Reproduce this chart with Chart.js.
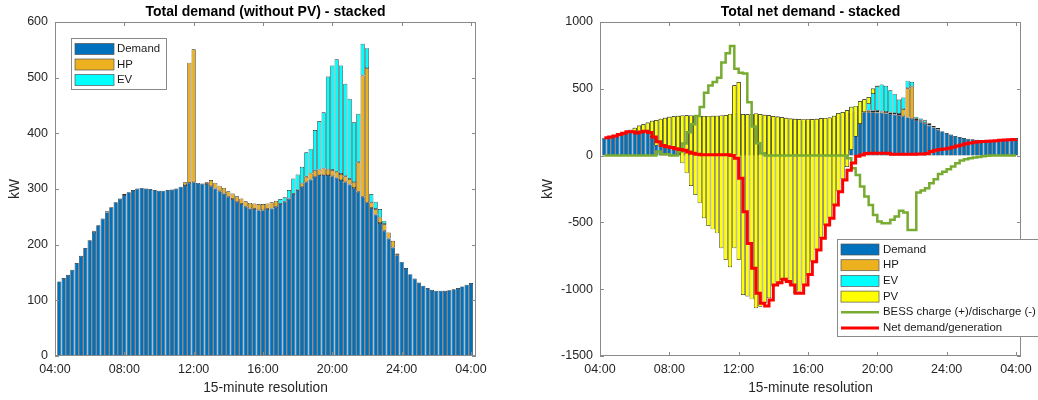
<!DOCTYPE html>
<html>
<head>
<meta charset="utf-8">
<script src="https://cdn.jsdelivr.net/npm/chart.js@4.4.1/dist/chart.umd.min.js"></script>
<style>
  html, body { margin: 0; padding: 0; background: #fff; }
  #wrap { position: relative; width: 1038px; height: 400px; overflow: hidden; }
  canvas { position: absolute; top: 0; }
  #demandChart { left: 0; }
  #netChart { left: 519px; }
</style>
</head>
<body>
<div id="wrap">
  <canvas id="demandChart" width="519" height="400"></canvas>
  <canvas id="netChart" width="519" height="400"></canvas>
</div>
<script>
const FONT = '"Liberation Sans", Arial, Helvetica, sans-serif';
Chart.defaults.font.family = FONT;
Chart.defaults.color = '#262626';

// 15-minute slots 04:15 ... 04:00 (next day), as hours
const slots = [];
for (let i = 1; i <= 96; i++) slots.push(4 + i / 4);

const xTicks = [4, 8, 12, 16, 20, 24, 28];
const xTickLabels = ['04:00', '08:00', '12:00', '16:00', '20:00', '24:00', '04:00'];

// kW per slot
const demand = [134,140,146,155,167,180,194,208,223,235,
  247,258,267,276,283,289,294,298,301,302,
  301,300,298,297,297,298,299,301,304,307,
  311,312,311,310,309,305,301,296,292,286,
  282,277,273,268,265,264,262,262,264,265,
  268,273,277,283,291,298,304,312,317,322,
  325,325,325,323,320,316,312,308,302,295,
  286,276,266,254,239,225,211,195,181,169,
  158,147,139,132,126,122,119,117,117,117,
  118,120,122,125,128,131];

const hp = [0,0,0,0,0,0,0,0,2,0,
  0,2,0,0,0,2,0,0,0,0,
  0,0,0,0,0,0,0,0,0,5,
  216,239,0,0,3,11,10,10,10,10,
  10,10,10,10,10,10,11,11,10,11,
  11,0,0,0,0,0,6,10,11,11,
  10,12,10,11,11,11,11,10,10,53,
  218,241,10,10,10,12,11,12,3,0,
  0,0,0,0,0,0,0,0,0,0,
  0,0,0,0,0,0];

const ev = [0,0,0,0,0,0,0,0,0,0,
  0,0,0,0,0,0,0,0,0,0,
  0,0,0,0,0,0,0,0,0,0,
  0,0,0,0,0,0,0,0,0,0,
  0,0,0,0,0,0,0,0,0,0,
  0,9,8,15,28,28,30,44,44,73,
  87,101,167,188,202,195,166,144,108,87,
  57,36,15,13,15,6,0,0,0,0,
  0,0,0,0,0,0,0,0,0,0,
  0,0,0,0,0,0];

const pv = [0,0,0,0,0,-2,-16,-38,-47,-52,
  -75,-120,-192,-211,-226,-231,-242,-283,-358,-434,
  -528,-595,-655,-766,-824,-850,-881,-995,-1085,-1148,
  -1221,-1332,-1354,-1365,-1388,-1459,-1442,-1412,-1369,-1276,
  -1248,-1218,-1226,-1246,-1305,-1292,-1241,-1173,-1068,-982,
  -898,-807,-754,-674,-588,-502,-425,-324,-230,-169,
  -98,-52,-41,-11,0,0,0,0,0,0,
  0,0,0,0,0,0,0,0,0,0,
  0,0,0,0,0,0,0,0,0,0,
  0,0,0,0,0,0];

const bess = [0,0,0,0,0,0,0,0,0,0,
  0,0,30,10,10,0,0,30,90,175,
  235,297,364,470,525,550,582,696,766,820,
  650,620,615,400,217,92,17,0,0,0,
  0,0,0,0,0,0,0,0,0,0,
  0,0,0,0,0,0,-20,-95,-145,-232,
  -307,-369,-444,-494,-506,-506,-481,-456,-412,-426,
  -556,-556,-277,-262,-245,-207,-177,-137,-120,-102,
  -82,-57,-37,-27,-20,-15,-10,-5,-2,0,
  0,0,0,0,0,0];

const net = [134,139,147,158,168,178,178,170,177,182,
  172,140,103,75,67,60,52,45,40,27,
  17,10,7,7,7,7,7,7,7,0,
  -20,-170,-420,-657,-844,-1031,-1106,-1126,-1081,-968,
  -951,-926,-943,-968,-1031,-1031,-968,-890,-794,-707,
  -619,-519,-469,-370,-270,-183,-110,-55,-5,5,
  15,17,17,17,17,17,10,10,10,10,
  10,10,12,12,15,30,40,45,50,55,
  62,72,80,88,95,100,103,106,108,110,
  112,115,117,119,121,123];

const COLORS = {
  demand: '#0072BD',
  hp: '#EDB120',
  ev: '#00FFFF',
  pv: '#FFFF00',
  bess: '#77AC30',
  net: '#FF0000',
};

function points(values) {
  return slots.map((x, i) => ({ x: x, y: values[i] }));
}

// MATLAB-like stacking: each layer floats on top of the ones below it,
// PV (negative) hangs down from the top of the stack
function floating(i, layer) {
  const d = demand[i], h = hp[i], e = ev[i], p = pv[i];
  if (layer === 'demand') return [0, d];
  if (layer === 'hp') return [d, d + h];
  if (layer === 'ev') return [d + h, d + h + e];
  return [d + h + e + p, d + h + e];
}

function floatPoints(layer) {
  return slots.map((x, i) => ({ x: x, y: floating(i, layer) }));
}

// axes box with inward tick marks on all four sides
const axesBox = {
  id: 'axesBox',
  afterDatasetsDraw(chart) {
    const { ctx, chartArea: a, scales } = chart;
    ctx.save();
    ctx.strokeStyle = '#8a8a8a';
    ctx.lineWidth = 1;
    ctx.strokeRect(a.left + 0.5, a.top + 0.5, a.right - a.left - 1, a.bottom - a.top - 1);
    ctx.beginPath();
    scales.x.ticks.forEach(t => {
      const px = Math.round(scales.x.getPixelForValue(t.value)) + 0.5;
      ctx.moveTo(px, a.bottom); ctx.lineTo(px, a.bottom - 4);
      ctx.moveTo(px, a.top); ctx.lineTo(px, a.top + 4);
    });
    scales.y.ticks.forEach(t => {
      const py = Math.round(scales.y.getPixelForValue(t.value)) + 0.5;
      ctx.moveTo(a.left, py); ctx.lineTo(a.left + 4, py);
      ctx.moveTo(a.right, py); ctx.lineTo(a.right - 4, py);
    });
    ctx.stroke();
    ctx.restore();
  }
};

// boxed legend drawn inside the plot, in dataset order
const boxLegend = {
  id: 'boxLegend',
  afterDraw(chart, args, opts) {
    const ctx = chart.ctx;
    ctx.save();
    ctx.fillStyle = '#fff';
    ctx.fillRect(opts.x, opts.y, opts.w, opts.h);
    ctx.strokeStyle = '#8a8a8a';
    ctx.lineWidth = 1;
    ctx.strokeRect(opts.x + 0.5, opts.y + 0.5, opts.w, opts.h);
    ctx.font = opts.fontSize + 'px ' + FONT;
    ctx.textBaseline = 'middle';
    chart.data.datasets.forEach((ds, i) => {
      const cy = opts.firstRow + i * opts.rowH;
      if (ds.type === 'line') {
        ctx.strokeStyle = ds.borderColor;
        ctx.lineWidth = ds.borderWidth;
        ctx.beginPath();
        ctx.moveTo(opts.swX, cy);
        ctx.lineTo(opts.swX + opts.swW, cy);
        ctx.stroke();
      } else {
        ctx.fillStyle = ds.backgroundColor;
        ctx.fillRect(opts.swX, cy - opts.swH / 2, opts.swW, opts.swH);
        ctx.strokeStyle = '#555';
        ctx.lineWidth = 0.7;
        ctx.strokeRect(opts.swX, cy - opts.swH / 2, opts.swW, opts.swH);
      }
      ctx.fillStyle = '#1a1a1a';
      ctx.fillText(ds.label, opts.textX, cy);
    });
    ctx.restore();
  }
};

function xScale(stacked) {
  return {
    type: 'linear',
    stacked: stacked,
    offset: false,
    min: 4,
    max: 28.29,
    afterBuildTicks: s => { s.ticks = xTicks.map(v => ({ value: v })); },
    afterFit: s => { s.height = 44; },
    ticks: {
      autoSkip: false,
      maxRotation: 0,
      padding: 6,
      font: { size: 12.5 },
      callback: (v, i) => xTickLabels[i],
    },
    grid: { display: false, drawTicks: false },
    border: { display: false },
    title: {
      display: true,
      text: '15-minute resolution',
      font: { size: 13.75 },
      padding: { top: 0, bottom: 3.75 },
    },
  };
}

function yScale(stacked, min, max, step, width, titlePad) {
  return {
    stacked: stacked,
    min: min,
    max: max,
    afterFit: s => { s.width = width; },
    ticks: {
      stepSize: step,
      padding: 7,
      font: { size: 12.5 },
      callback: v => String(v),
    },
    grid: { display: false, drawTicks: false },
    border: { display: false },
    title: {
      display: true,
      text: 'kW',
      font: { size: 13.75 },
      padding: { top: titlePad, bottom: 0 },
    },
  };
}

function titleOpts(text) {
  return {
    display: true,
    fullSize: false,
    text: text,
    color: '#000',
    font: { size: 14, weight: 'bold' },
    padding: { top: 3.6, bottom: 1.6 },
  };
}

const barDefaults = {
  categoryPercentage: 1,
  barPercentage: 0.96,
  borderWidth: 0.7,
  borderColor: '#262626',
  borderSkipped: false,
};

new Chart(document.getElementById('demandChart'), {
  type: 'bar',
  data: {
    datasets: [
      { label: 'Demand', data: points(demand), backgroundColor: COLORS.demand },
      { label: 'HP', data: points(hp), backgroundColor: COLORS.hp },
      { label: 'EV', data: points(ev), backgroundColor: COLORS.ev },
    ]
  },
  options: {
    responsive: false,
    animation: false,
    events: [],
    layout: { padding: { left: 0, right: 43, top: 0, bottom: 0 } },
    datasets: { bar: barDefaults },
    plugins: {
      legend: { display: false },
      tooltip: { enabled: false },
      title: titleOpts('Total demand (without PV) - stacked'),
      boxLegend: { x: 71, y: 38, w: 95, h: 51, firstRow: 49, rowH: 15.5,
        swX: 75, swW: 39, swH: 11, textX: 117, fontSize: 11.4 },
    },
    scales: {
      x: xScale(true),
      y: yScale(true, 0, 600, 100, 55, 6.75),
    }
  },
  plugins: [axesBox, boxLegend]
});

new Chart(document.getElementById('netChart'), {
  type: 'bar',
  data: {
    datasets: [
      { label: 'Demand', data: floatPoints('demand'), backgroundColor: COLORS.demand, grouped: false, order: 5 },
      { label: 'HP', data: floatPoints('hp'), backgroundColor: COLORS.hp, grouped: false, order: 4 },
      { label: 'EV', data: floatPoints('ev'), backgroundColor: COLORS.ev, grouped: false, order: 3 },
      { label: 'PV', data: floatPoints('pv'), backgroundColor: COLORS.pv, grouped: false, order: 2 },
      { type: 'line', label: 'BESS charge (+)/discharge (-)', data: points(bess),
        borderColor: COLORS.bess, borderWidth: 2.5, pointRadius: 0, stepped: true, fill: false, order: 1 },
      { type: 'line', label: 'Net demand/generation', data: points(net),
        borderColor: COLORS.net, borderWidth: 3, pointRadius: 0, stepped: true, fill: false, order: 0 },
    ]
  },
  options: {
    responsive: false,
    animation: false,
    events: [],
    layout: { padding: { left: 0, right: 17, top: 0, bottom: 0 } },
    datasets: { bar: barDefaults },
    plugins: {
      legend: { display: false },
      tooltip: { enabled: false },
      title: titleOpts('Total net demand - stacked'),
      boxLegend: { x: 318, y: 239, w: 210, h: 97, firstRow: 249.5, rowH: 15.7,
        swX: 322, swW: 38, swH: 11, textX: 364, fontSize: 11.4 },
    },
    scales: {
      x: xScale(false),
      y: yScale(false, -1500, 1000, 500, 81, 20.75),
    }
  },
  plugins: [axesBox, boxLegend]
});
</script>
</body>
</html>
